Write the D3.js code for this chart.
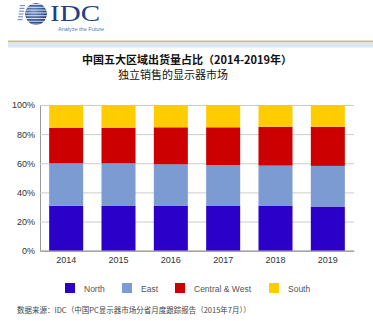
<!DOCTYPE html>
<html><head><meta charset="utf-8">
<script src="https://cdn.jsdelivr.net/npm/d3@7/dist/d3.min.js"></script>
<style>body{margin:0;background:#fff;}svg{display:block;}</style>
</head><body><svg id="c" width="373" height="321"></svg>
<script>
const years = ["2014","2015","2016","2017","2018","2019"];
const seriesNames = ["North","East","Central & West","South"];
const north = [30.9,30.7,30.7,30.7,30.7,30.3];
const east = [29.1,29.3,28.6,28.1,27.7,27.9];
const centralWest = [24.4,24.4,25.4,25.9,26.7,26.9];
const south = [15.6,15.6,15.3,15.3,14.9,14.9];
const yTicks = [0,20,40,60,80,100];
const colors = ["#2b00c8","#7b9bd2","#cc0000","#ffcc00"];

(function(){
const svg = d3.select("#c");
const font = "Arial, 'Liberation Sans', sans-serif";

// Header logo
const logo = svg.append("g");
const defs = svg.append("defs");
const grad = defs.append("radialGradient").attr("id","gl").attr("cx","40%").attr("cy","40%").attr("r","70%");
grad.append("stop").attr("offset","0%").attr("stop-color","#6f8fc4");
grad.append("stop").attr("offset","100%").attr("stop-color","#1b356e");
defs.append("clipPath").attr("id","gc").append("circle").attr("cx",36).attr("cy",14).attr("r",11);
const gg = logo.append("g").attr("clip-path","url(#gc)");
gg.append("circle").attr("cx",36).attr("cy",14).attr("r",11).attr("fill","url(#gl)");
for(let i=0;i<8;i++){gg.append("rect").attr("x",20).attr("y",4+i*2.8).attr("width",32).attr("height",1).attr("fill","#fff").attr("opacity",0.8);}
for(let i=0;i<6;i++){logo.append("rect").attr("x",20-i*0.5).attr("y",5+i*2.8).attr("width",5).attr("height",1.2).attr("fill","#7f95c0");}
logo.append("text").attr("x",50).attr("y",21).attr("font-family","'Liberation Serif','DejaVu Serif',serif").attr("font-size",24).attr("fill","#213f86").attr("textLength",50).attr("lengthAdjust","spacingAndGlyphs").text("IDC");
logo.append("text").attr("x",58).attr("y",31).attr("font-family",font).attr("font-size",5.5).attr("fill","#4a7cc0").text("Analyze the Future");
svg.append("rect").attr("x",8).attr("y",40.5).attr("width",365).attr("height",2).attr("fill","#c9b98c");
svg.append("rect").attr("x",8).attr("y",42.5).attr("width",365).attr("height",5).attr("fill","#dbe7f3");

// Titles
svg.append("text").attr("x",187).attr("y",64).attr("text-anchor","middle").attr("font-family","'Noto Sans CJK SC',sans-serif").attr("font-weight","bold").attr("font-size",11).attr("fill","#111").text("中国五大区域出货量占比（2014-2019年）");
svg.append("text").attr("x",173).attr("y",79).attr("text-anchor","middle").attr("font-family","'Noto Sans CJK SC',sans-serif").attr("font-size",11).attr("fill","#111").text("独立销售的显示器市场");

// Chart
const mLeft = 40, mRight = 354, mTop = 105, mBottom = 250.7;
const x = d3.scaleBand().domain(years).range([mLeft,mRight]).paddingInner(0.35).paddingOuter(0.175);
const y = d3.scaleLinear().domain([0,100]).range([mBottom,mTop]);

const data = years.map((yr,i)=>({year:yr,"North":north[i],"East":east[i],"Central & West":centralWest[i],"South":south[i]}));
const stacked = d3.stack().keys(seriesNames)(data);

const yAxis = svg.append("g").attr("transform",`translate(${mLeft},0)`)
  .call(d3.axisLeft(y).tickValues(yTicks).tickFormat(d=>d+"%").tickSize(-(mRight-mLeft)).tickPadding(5));
yAxis.select(".domain").attr("stroke","#999");
yAxis.selectAll(".tick line").attr("stroke","#ccc");
yAxis.selectAll(".tick text").attr("font-family",font).attr("font-size",9).attr("fill","#333");

svg.append("g").selectAll("g").data(stacked).join("g").attr("fill",(d,i)=>colors[i])
  .selectAll("rect").data(d=>d).join("rect")
  .attr("x",d=>x(d.data.year)).attr("width",x.bandwidth())
  .attr("y",d=>y(d[1])).attr("height",d=>y(d[0])-y(d[1]));

const xAxis = svg.append("g").attr("transform",`translate(0,${mBottom})`)
  .call(d3.axisBottom(x).tickSize(0).tickPadding(6));
xAxis.select(".domain").attr("stroke","#999");
xAxis.selectAll(".tick text").attr("font-family",font).attr("font-size",9).attr("fill","#333");

// Legend
const legX = [65,122,175,269];
const leg = svg.append("g");
seriesNames.forEach((s,i)=>{
  leg.append("rect").attr("x",legX[i]).attr("y",283).attr("width",10).attr("height",10).attr("fill",colors[i]);
  leg.append("text").attr("x",legX[i]+19).attr("y",291.5).attr("font-family",font).attr("font-size",8.5).attr("fill","#555").text(s);
});

// Source
svg.append("text").attr("x",17).attr("y",313).attr("font-family","'Noto Sans CJK SC',sans-serif").attr("font-size",7.5).attr("fill","#444").text("数据来源：IDC（中国PC显示器市场分省月度跟踪报告（2015年7月））");
})();
</script></body></html>
